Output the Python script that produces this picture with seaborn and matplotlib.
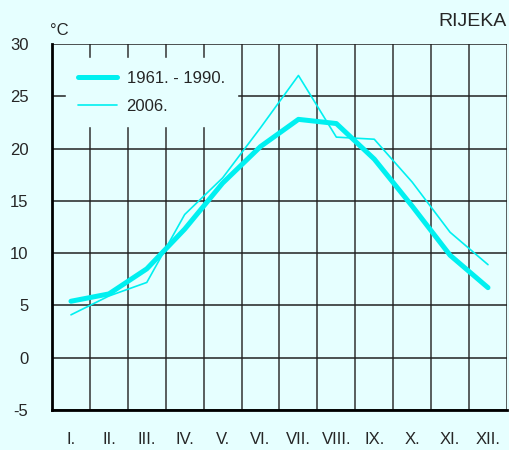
import matplotlib
matplotlib.use('Agg')
import matplotlib.pyplot as plt
import seaborn as sns
import pandas as pd

months = ['I.', 'II.', 'III.', 'IV.', 'V.', 'VI.', 'VII.', 'VIII.', 'IX.', 'X.', 'XI.', 'XII.']
avg_1961_1990 = [5.4, 6.1, 8.5, 12.3, 16.7, 20.2, 22.8, 22.4, 19.0, 14.5, 9.8, 6.7]
temp_2006 = [4.1, 5.9, 7.2, 13.7, 17.2, 22.0, 27.0, 21.1, 20.9, 16.8, 12.0, 8.9]

bg = '#e6ffff'
cyan = '#00f0f0'

sns.set_style('white', {'axes.facecolor': bg, 'figure.facecolor': bg})
plt.rcParams['font.family'] = ['Liberation Sans Narrow', 'Liberation Sans', 'DejaVu Sans']

df = pd.DataFrame({
    'pos': [i + 0.5 for i in range(12)] * 2,
    'temp': avg_1961_1990 + temp_2006,
    'serija': ['1961. - 1990.'] * 12 + ['2006.'] * 12,
})

fig = plt.figure(figsize=(5.1, 4.5), dpi=100)
ax = fig.add_axes([0.102, 0.089, 0.892, 0.813])

sns.lineplot(data=df, x='pos', y='temp', hue='serija', size='serija',
             sizes={'1961. - 1990.': 3.6, '2006.': 1.2},
             palette={'1961. - 1990.': cyan, '2006.': cyan},
             ax=ax, zorder=3)

ax.set_xlim(0, 12)
ax.set_ylim(-5, 30)
ax.set_xticks([i + 0.5 for i in range(12)])
ax.set_xticklabels(months, fontsize=12)
ax.set_yticks(range(-5, 31, 5))
ax.set_yticklabels([str(v) for v in range(-5, 31, 5)], fontsize=12)
ax.tick_params(axis='both', which='both', length=0)
ax.tick_params(axis='x', pad=16)
ax.tick_params(axis='y', pad=17)

ax.grid(False)
for v in range(13):
    ax.axvline(v, color='#333333', lw=1.1, zorder=1)
for v in range(-5, 31, 5):
    ax.axhline(v, color='#222222', lw=1.1, zorder=1)

for s in ['top', 'right']:
    ax.spines[s].set_visible(False)
for s in ['left', 'bottom']:
    ax.spines[s].set_color('black')
    ax.spines[s].set_linewidth(2)
ax.set_xlabel('')
ax.set_ylabel('')

leg = ax.legend(loc='upper left', bbox_to_anchor=(0.03, 0.962), frameon=True,
                facecolor=bg, edgecolor=bg, fancybox=False, framealpha=1,
                fontsize=12, handlelength=2.3, handletextpad=0.6,
                borderpad=0.75, labelspacing=0.8, borderaxespad=0)
leg.set_zorder(5)

fig.text(0.098, 0.915, '°C', fontsize=12, ha='left', va='bottom')
fig.text(0.993, 0.933, 'RIJEKA', fontsize=14, ha='right', va='bottom')

fig.savefig('out.png', dpi=100, facecolor=bg)
